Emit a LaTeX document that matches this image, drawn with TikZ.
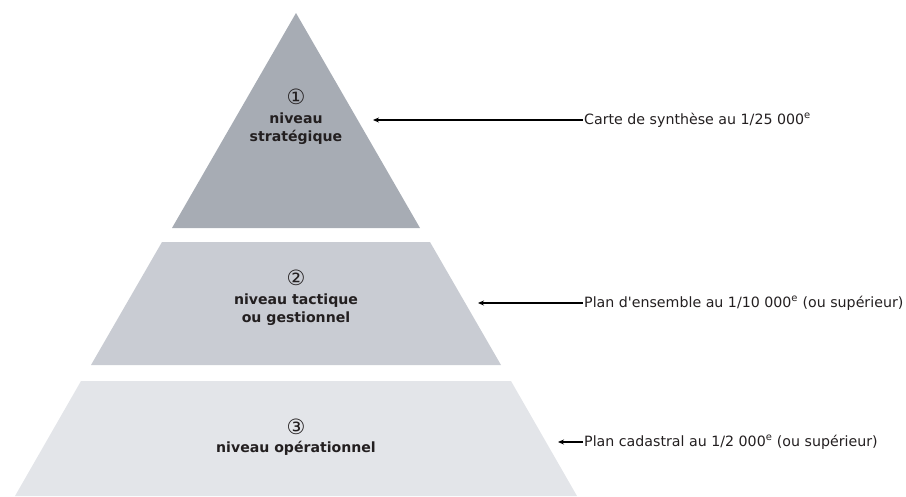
\documentclass[tikz,border=0pt]{standalone}
\usepackage{fontspec}
\setmainfont{DejaVu Sans}[Ligatures=TeXOff]
\usetikzlibrary{arrows.meta}
\definecolor{levelone}{RGB}{167,172,180}
\definecolor{leveltwo}{RGB}{201,204,211}
\definecolor{levelthree}{RGB}{227,229,233}
\definecolor{ink}{RGB}{35,31,32}
\newcommand{\rank}[1]{{\mdseries\fontsize{21}{18.5}\selectfont #1}}
\begin{document}
\begin{tikzpicture}[x=1pt,y=-1pt,
    level/.style={font=\fontsize{14.1}{18.5}\selectfont\bfseries,text=ink,align=center},
    scale label/.style={font=\fontsize{14.2}{17}\selectfont,text=ink,anchor=west,inner sep=1pt},
    pointer/.style={-{Stealth[length=6pt,width=5pt]},line width=2.4pt}]
  \useasboundingbox (0,0) rectangle (906,496);
  % the three levels of the pyramid
  \fill[levelone] (296,13) -- (420,228) -- (172,228) -- cycle;
  \fill[leveltwo] (162,242) -- (430,242) -- (501,365) -- (91,365) -- cycle;
  \fill[levelthree] (81,381) -- (511,381) -- (577,496) -- (15,496) -- cycle;
  % level names
  \node[level] (strat) at (296,117) {\rank{①}\\niveau\\stratégique};
  \node[level] (tact) at (296,298) {\rank{②}\\niveau tactique\\ou gestionnel};
  \node[level] (oper) at (296,437) {\rank{③}\\niveau opérationnel};
  % map scales
  \node[scale label] (carte) at (583,120) {Carte de synthèse au 1/25 000\textsuperscript{e}};
  \node[scale label] (ensemble) at (583,303) {Plan d'ensemble au 1/10 000\textsuperscript{e} (ou supérieur)};
  \node[scale label] (cadastre) at (583,442) {Plan cadastral au 1/2 000\textsuperscript{e} (ou supérieur)};
  \coordinate (tipone) at (373,120);
  \coordinate (tiptwo) at (478,303);
  \coordinate (tipthree) at (558,442);
  \draw[pointer] (carte.west) -- (tipone);
  \draw[pointer] (ensemble.west) -- (tiptwo);
  \draw[pointer] (cadastre.west) -- (tipthree);
\end{tikzpicture}
\end{document}
